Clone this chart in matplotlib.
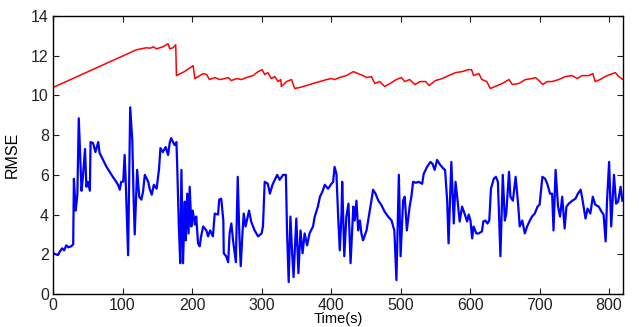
import numpy as np
import matplotlib
matplotlib.use("Agg")
import matplotlib.pyplot as plt

plt.rcParams['font.family'] = ['Liberation Sans', 'DejaVu Sans']

# blue curve (time, rmse)
blue_t = [0, 4, 7, 10, 13, 16, 19, 22, 26, 29, 30, 32.6, 35, 37, 41, 43, 46, 48, 50, 53,
          54, 57.5, 61, 65, 67, 72, 77, 81.5, 86, 90, 93.5, 96, 98, 101, 103, 104.5, 108, 111, 114, 116,
          117.5, 121, 124, 127, 129.5, 132, 137, 139, 142, 145, 149, 152.5, 154.5, 158, 162, 165.5, 168, 170, 172.5, 175,
          177.5, 178.5, 181, 183, 184.7, 187, 189.5, 191, 193, 195, 196.6, 199, 201, 204, 206, 208.6, 211, 213, 216, 220.6,
          223, 226, 230, 232.6, 237.4, 239, 242, 245, 245.6, 249, 252, 254, 256.5, 259, 263, 265.7, 268, 270, 272.5, 274.3,
          277, 282, 285, 290, 295, 300, 302, 304.5, 309, 312, 315.7, 319, 322.5, 326, 331, 335, 336.7, 339, 341.5, 344,
          346, 350, 353, 356, 359, 362, 365.5, 369, 374, 376.5, 381, 384, 387.5, 391, 395.7, 400.5, 403, 405, 407.7, 410,
          412.5, 415, 416, 419, 422, 425, 428, 432, 434, 436.5, 439, 441.5, 443.6, 446, 451, 455, 458, 460.4, 464, 468,
          472, 477, 482, 487, 491, 494, 497.5, 500, 503.6, 506, 509, 513, 515.5, 518, 522, 526, 531, 533.3, 538, 543,
          546, 549, 552.5, 557, 562, 564, 567, 569, 573, 576.5, 579, 582, 585, 588.5, 592, 595.7, 598, 600.5, 603, 605,
          609, 612.5, 617, 619, 622, 625, 627.6, 630, 634, 637, 640, 643.6, 647, 650, 652, 656, 658, 661.6, 665.5, 669,
          671.4, 675, 678.7, 682, 686, 689, 693, 697, 700, 704, 708, 711, 715, 718, 720, 723, 726.5, 729.4, 732.5, 736,
          738.6, 742, 747, 751.6, 755, 759, 761, 766, 769, 773, 776.5, 780, 785, 789, 792, 795, 797, 800, 803, 807,
          810, 813, 816.5, 819]
blue_v = [2.05, 2.0, 1.96, 2.15, 2.3, 2.2, 2.45, 2.35, 2.4, 2.5, 5.8, 4.2, 5.0, 8.85, 5.2, 5.9, 7.3, 5.4, 5.65, 5.2,
          7.65, 7.6, 7.15, 7.65, 7.1, 6.75, 6.4, 6.15, 5.9, 5.7, 5.5, 5.25, 5.65, 5.65, 7.0, 5.75, 1.95, 9.4, 7.75, 4.7,
          3.0, 6.25, 4.9, 4.75, 5.15, 6.0, 5.65, 5.3, 5.0, 5.5, 5.3, 6.3, 7.35, 7.15, 7.4, 7.0, 7.65, 7.85, 7.65, 7.5,
          7.65, 6.6, 3.4, 1.55, 6.25, 1.55, 4.65, 2.7, 5.05, 3.05, 5.4, 3.4, 4.2, 3.5, 3.9, 2.55, 2.4, 2.9, 3.4, 3.2,
          2.9, 3.2, 2.9, 4.05, 4.0, 4.75, 4.8, 3.7, 2.05, 1.9, 1.6, 3.05, 3.55, 2.7, 1.6, 5.9, 3.05, 1.4, 3.05, 4.05,
          3.4, 4.2, 3.65, 3.2, 2.9, 3.05, 3.4, 5.65, 5.55, 5.05, 5.5, 5.75, 6.0, 5.75, 6.0, 6.0, 3.05, 0.6, 3.9, 2.05,
          0.85, 3.8, 1.05, 3.2, 2.05, 3.05, 2.45, 3.05, 3.4, 3.9, 4.4, 4.9, 5.15, 5.5, 5.3, 5.55, 5.65, 6.4, 6.05, 4.05,
          2.2, 4.05, 5.65, 1.9, 3.9, 4.55, 1.55, 4.4, 3.7, 4.7, 3.2, 3.7, 3.05, 2.7, 3.2, 4.05, 4.7, 5.25, 5.05, 4.7,
          4.5, 4.15, 3.9, 3.7, 3.2, 0.7, 6.0, 1.9, 4.7, 4.9, 3.2, 4.4, 4.9, 5.65, 5.6, 5.65, 5.55, 6.05, 6.4, 6.65,
          6.55, 6.25, 6.75, 6.5, 6.3, 6.25, 4.7, 2.55, 6.65, 3.55, 5.65, 4.7, 3.65, 4.4, 4.05, 3.65, 4.0, 3.7, 2.8, 3.4,
          3.05, 3.05, 3.15, 3.65, 3.7, 3.55, 3.7, 5.3, 5.8, 5.9, 5.65, 1.9, 6.0, 3.7, 4.05, 6.15, 4.9, 4.7, 5.9, 4.55,
          3.4, 3.7, 3.05, 3.4, 3.7, 3.9, 4.05, 4.4, 4.5, 5.9, 5.8, 5.55, 5.05, 5.05, 3.2, 6.25, 4.4, 3.9, 4.9, 3.3,
          4.4, 4.55, 4.7, 4.8, 5.05, 5.25, 4.9, 3.8, 4.3, 4.05, 4.9, 4.5, 4.4, 4.15, 4.0, 2.65, 4.7, 6.65, 3.4, 6.0,
          4.55, 4.65, 5.4, 4.7]

# red curve (time, rmse)
red_t = [0, 120, 127, 134, 140, 144, 149, 158, 165.5, 168, 172.5, 176.5, 177.5, 189, 201.5, 204, 216, 221, 225, 232.6,
         240, 247, 252, 256.5, 264, 271, 278, 287.7, 295, 301, 304.5, 309, 314, 319, 323.7, 327.6, 328.5, 336, 343, 347.7,
         355, 364.5, 374, 384, 393.5, 400.5, 405, 412, 422, 432, 439, 446, 451, 458, 463, 470, 477, 484.6, 494, 501,
         506, 513, 520.6, 528, 536, 541, 550, 560, 569, 579, 588.5, 598, 602, 605, 612.5, 617, 624, 629, 636, 646,
         656, 660.6, 670, 679.6, 689, 694, 699, 704.5, 711, 718, 727.5, 737, 747, 754, 761, 770.6, 776.5, 780, 787, 797,
         809, 814, 820]
red_v = [10.4, 12.3, 12.35, 12.4, 12.38, 12.45, 12.35, 12.45, 12.6, 12.35, 12.4, 12.55, 11.0, 11.2, 11.5, 10.85, 11.1, 11.05, 10.8, 10.9,
         10.8, 10.85, 10.9, 10.75, 10.85, 10.8, 10.9, 11.0, 11.2, 11.3, 11.05, 11.15, 10.85, 10.95, 10.7, 10.8, 10.45, 10.7, 10.8, 10.35,
         10.4, 10.5, 10.6, 10.7, 10.8, 10.85, 10.8, 10.9, 11.0, 11.2, 11.1, 11.0, 10.9, 10.95, 10.6, 10.7, 10.45, 10.6, 10.8, 10.9,
         10.7, 10.8, 10.55, 10.7, 10.7, 10.5, 10.75, 10.85, 11.0, 11.15, 11.2, 11.3, 11.3, 11.0, 11.1, 10.8, 10.7, 10.35, 10.45, 10.6,
         10.8, 10.55, 10.6, 10.8, 10.85, 10.9, 10.75, 10.55, 10.7, 10.7, 10.8, 10.95, 11.0, 10.85, 11.0, 11.0, 11.1, 10.7, 10.8, 11.0,
         11.15, 10.95, 10.8]

x_ticks = [0, 100, 200, 300, 400, 500, 600, 700, 800]
y_ticks = [0, 2, 4, 6, 8, 10, 12, 14]

fig = plt.figure(figsize=(6.39, 3.27), dpi=100)
ax = fig.add_axes([0.083, 0.101, 0.892, 0.85])

ax.plot(red_t, red_v, color='#ff0000', lw=1.1)
ax.plot(blue_t, blue_v, color='#0000ff', lw=1.6)

ax.set_xlim(0, 820)
ax.set_ylim(0, 14)
ax.set_xticks(x_ticks)
ax.set_yticks(y_ticks)
ax.tick_params(direction='in', top=True, right=True, length=4, width=0.8,
               labelsize=11.5, pad=3, colors='#222222')
for s in ax.spines.values():
    s.set_linewidth(1.0)

# reference crops this label at the bottom edge; keep it just inside
ax.set_xlabel('Time(s)', fontsize=10.5, labelpad=-1)
ax.set_ylabel('RMSE', fontsize=11.5, labelpad=8)

fig.savefig('out.png', dpi=100)
